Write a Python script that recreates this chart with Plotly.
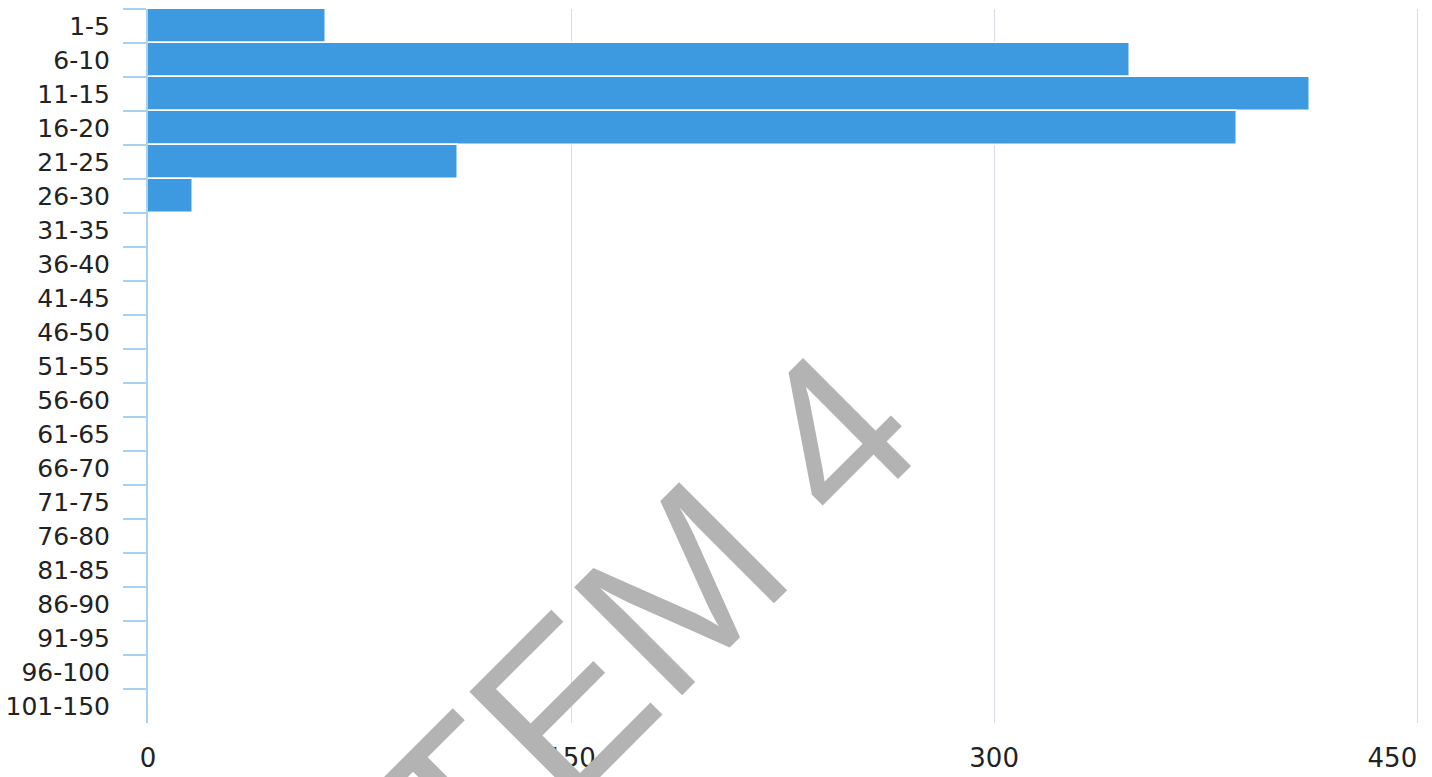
import plotly.graph_objects as go

# age bands and counts
bands = ['1-5', '6-10', '11-15', '16-20', '21-25', '26-30', '31-35', '36-40',
         '41-45', '46-50', '51-55', '56-60', '61-65', '66-70', '71-75',
         '76-80', '81-85', '86-90', '91-95', '96-100', '101-150']
counts = [63, 348, 412, 386, 110, 16, 0, 0, 0, 0, 0, 0, 0, 0, 0,
          0, 0, 0, 0, 0, 0]
x_ticks = [0, 150, 300, 450]
# last label is pulled left so it stays inside the page, as in the original
x_labels = ['0', '150', '300', '450' + '\u00a0' * 6]
watermark = 'STEM 4'

fig = go.Figure()

fig.add_trace(go.Bar(
    x=counts,
    y=bands,
    orientation='h',
    marker=dict(color='#3d9ae0', line=dict(color='white', width=1.5)),
    showlegend=False
))

# big grey watermark across the plot
fig.add_annotation(
    text=watermark,
    xref='paper', yref='paper',
    x=0.350, y=0.067,
    xanchor='center', yanchor='middle',
    textangle=-45,
    showarrow=False,
    font=dict(family='Liberation Sans', size=222, color='#b3b3b3')
)

fig.update_layout(
    width=1432,
    height=777,
    margin=dict(l=148, r=12, t=9, b=54),
    plot_bgcolor='white',
    paper_bgcolor='white',
    bargap=0,
    font=dict(family='DejaVu Sans', size=25, color='#222222'),
    xaxis=dict(
        range=[0, 451],
        tickmode='array',
        tickvals=x_ticks,
        ticktext=x_labels,
        tickfont=dict(size=26),
        showgrid=True,
        gridcolor='#d9dee6',
        gridwidth=1,
        zeroline=False,
        showline=False,
        ticks='',
        ticklabelstandoff=17,
        ticklabeloverflow='allow',
        automargin=False,
    ),
    yaxis=dict(
        categoryorder='array',
        categoryarray=bands,
        autorange='reversed',
        showgrid=False,
        zeroline=False,
        showline=True,
        linecolor='#a9d1f2',
        linewidth=2,
        ticks='outside',
        tickson='boundaries',
        ticklen=23,
        tickwidth=2,
        tickcolor='#a9d1f2',
        ticklabelstandoff=31,
        automargin=False,
    ),
)

# drop the default page margin so the figure sits at the top-left corner
fig.write_html('out.html', config={'displayModeBar': False},
               post_script="document.body.style.margin='0';")
